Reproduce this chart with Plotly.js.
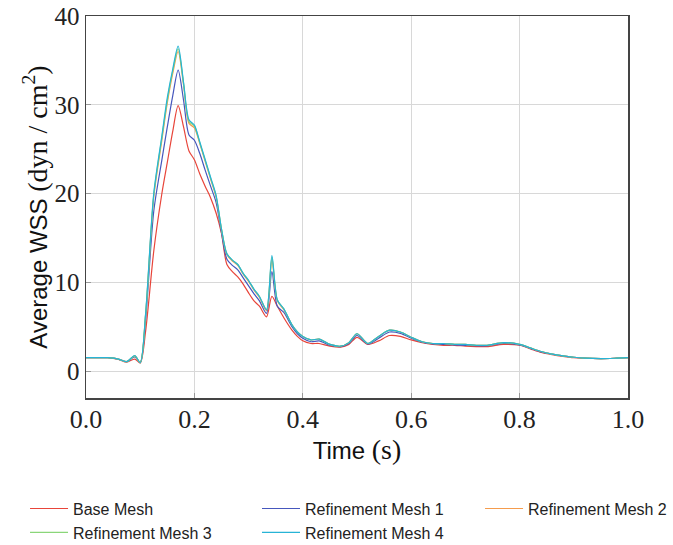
<!DOCTYPE html>
<html>
<head>
<meta charset="utf-8">
<script src="https://cdn.plot.ly/plotly-3.0.1.min.js"></script>
<style>html,body{margin:0;padding:0;background:#fff;}#chart{width:673px;height:545px;}</style>
</head>
<body>
<div id="chart"></div>
<script>
const seriesNames = ["Base Mesh", "Refinement Mesh 1", "Refinement Mesh 2", "Refinement Mesh 3", "Refinement Mesh 4"];
const time = [0, 0.02, 0.04, 0.06, 0.075, 0.09, 0.10, 0.11, 0.125, 0.14, 0.15, 0.16, 0.17, 0.18, 0.19, 0.20, 0.21, 0.22, 0.23, 0.24, 0.25, 0.26, 0.27, 0.28, 0.29, 0.30, 0.31, 0.32, 0.333, 0.343, 0.353, 0.365, 0.38, 0.39, 0.40, 0.415, 0.43, 0.45, 0.47, 0.485, 0.50, 0.52, 0.54, 0.56, 0.58, 0.60, 0.62, 0.64, 0.66, 0.68, 0.70, 0.72, 0.74, 0.77, 0.80, 0.82, 0.84, 0.86, 0.88, 0.90, 0.92, 0.95, 0.98, 1.0];
const baseMesh = [1.5, 1.5, 1.5, 1.3, 1.0, 1.35, 0.9, 4.5, 13.5, 20.0, 23.5, 27.0, 29.9, 27.5, 24.8, 23.8, 22.2, 20.8, 19.5, 17.8, 15.5, 12.0, 11.2, 10.6, 9.8, 8.8, 7.9, 7.3, 6.1, 8.4, 7.3, 6.0, 4.6, 3.9, 3.4, 3.1, 3.1, 2.8, 2.7, 3.0, 3.8, 3.0, 3.4, 4.0, 3.9, 3.5, 3.2, 3.0, 2.9, 2.9, 2.8, 2.75, 2.75, 3.0, 2.9, 2.5, 2.1, 1.85, 1.65, 1.5, 1.45, 1.4, 1.45, 1.5];
const mesh1 = [1.5, 1.5, 1.5, 1.35, 1.05, 1.6, 0.95, 5.8, 18.0, 23.8, 27.5, 31.0, 33.9, 30.5, 26.6, 26.0, 24.5, 22.6, 20.8, 19.0, 15.6, 12.6, 11.9, 11.4, 10.5, 9.6, 8.7, 7.9, 6.5, 11.2, 7.3, 6.6, 5.0, 4.2, 3.7, 3.3, 3.4, 2.9, 2.75, 3.1, 4.0, 3.05, 3.7, 4.4, 4.25, 3.7, 3.25, 3.05, 3.0, 2.95, 2.9, 2.85, 2.85, 3.1, 2.95, 2.55, 2.15, 1.9, 1.7, 1.55, 1.45, 1.4, 1.45, 1.5];
const mesh2 = [1.5, 1.5, 1.5, 1.35, 1.05, 1.7, 0.95, 6.3, 19.6, 26.0, 30.2, 33.5, 36.0, 32.2, 27.9, 27.4, 25.6, 23.6, 21.6, 19.6, 15.9, 13.1, 12.4, 11.9, 10.9, 10.1, 9.1, 8.3, 6.8, 12.5, 7.9, 6.9, 5.2, 4.4, 3.9, 3.5, 3.6, 3.0, 2.8, 3.2, 4.2, 3.1, 3.9, 4.6, 4.4, 3.8, 3.3, 3.1, 3.1, 3.0, 3.0, 2.9, 2.9, 3.2, 3.0, 2.6, 2.2, 1.9, 1.7, 1.55, 1.45, 1.4, 1.45, 1.5];
const mesh3 = [1.5, 1.5, 1.5, 1.35, 1.05, 1.7, 0.95, 6.4, 19.8, 26.3, 30.5, 33.8, 36.3, 32.4, 28.1, 27.6, 25.7, 23.7, 21.7, 19.7, 16.0, 13.2, 12.5, 12.0, 11.0, 10.2, 9.2, 8.4, 6.9, 12.8, 8.0, 7.0, 5.2, 4.4, 3.9, 3.5, 3.6, 3.0, 2.8, 3.2, 4.2, 3.1, 3.9, 4.6, 4.4, 3.8, 3.3, 3.1, 3.1, 3.0, 3.0, 2.9, 2.9, 3.2, 3.0, 2.6, 2.2, 1.9, 1.7, 1.55, 1.45, 1.4, 1.45, 1.5];
const mesh4 = [1.5, 1.5, 1.5, 1.35, 1.05, 1.75, 0.95, 6.5, 20.0, 26.5, 30.8, 34.0, 36.6, 32.5, 28.3, 27.7, 25.8, 23.8, 21.8, 19.8, 16.0, 13.2, 12.5, 12.0, 11.0, 10.2, 9.2, 8.4, 6.9, 13.0, 8.0, 7.0, 5.2, 4.4, 3.9, 3.5, 3.6, 3.0, 2.8, 3.2, 4.2, 3.1, 3.9, 4.6, 4.4, 3.8, 3.3, 3.1, 3.1, 3.0, 3.0, 2.9, 2.9, 3.2, 3.0, 2.6, 2.2, 1.9, 1.7, 1.55, 1.45, 1.4, 1.45, 1.5];
const xTicks = [0, 0.2, 0.4, 0.6, 0.8, 1.0];
const xTickLabels = ["0.0", "0.2", "0.4", "0.6", "0.8", "1.0"];
const yTicks = [0, 10, 20, 30, 40];
const yTickLabels = ["0", "10", "20", "30", "40"];

const colors = ["#e8453a", "#4657bd", "#f59c4d", "#8ad679", "#27b4d6"];
const allSeries = [baseMesh, mesh1, mesh2, mesh3, mesh4];
const legendOf = ["legend", "legend2", "legend3", "legend", "legend2"];

const traces = allSeries.map((ys, i) => ({
  x: time, y: ys, type: "scatter", mode: "lines", name: seriesNames[i],
  legend: legendOf[i],
  line: {color: colors[i], width: 1.2, shape: "spline", smoothing: 0.8}
}));

const serif = "Liberation Serif, DejaVu Serif, serif";
const sans = "Liberation Sans, Arial, sans-serif";
const legBase = {
  orientation: "v", xanchor: "left", y: -0.245, yanchor: "top",
  font: {family: sans, size: 16, color: "#222"},
  bgcolor: "rgba(0,0,0,0)", borderwidth: 0, tracegroupgap: 0, itemwidth: 38, traceorder: "normal"
};
const layout = {
  width: 673, height: 545,
  margin: {l: 86, r: 45, t: 16, b: 147, autoexpand: false},
  paper_bgcolor: "#fff", plot_bgcolor: "#fff",
  showlegend: true,
  legend: Object.assign({}, legBase, {x: -0.1125}),
  legend2: Object.assign({}, legBase, {x: 0.3155}),
  legend3: Object.assign({}, legBase, {x: 0.727}),
  xaxis: {
    range: [0, 1], tickvals: xTicks, ticktext: xTickLabels,
    showgrid: true, gridcolor: "#d8d8d8", gridwidth: 1,
    zeroline: false, showline: true, linecolor: "#444", linewidth: 1.5, mirror: true,
    ticks: "inside", ticklen: 5, tickcolor: "#999",
    tickfont: {family: serif, size: 26, color: "#222"},
    ticklabelstandoff: -3,
    automargin: false,
    title: {text: "Time <span style=\"font-family:Liberation Serif;font-size:28px\">(s)</span>", font: {family: sans, size: 24, color: "#111"}, standoff: 6}
  },
  yaxis: {
    range: [-3.04, 40], tickvals: yTicks, ticktext: yTickLabels,
    showgrid: true, gridcolor: "#d8d8d8", gridwidth: 1,
    zeroline: false, showline: true, linecolor: "#444", linewidth: 1.5, mirror: true,
    ticks: "inside", ticklen: 5, tickcolor: "#999",
    tickfont: {family: serif, size: 25, color: "#222"},
    automargin: true,
    title: {text: "Average WSS <span style=\"font-family:Liberation Serif;font-size:28px\">(dyn / cm<sup>2</sup>)</span>", font: {family: sans, size: 24, color: "#111"}, standoff: 0}
  }
};

Plotly.newPlot("chart", traces, layout, {displayModeBar: false, staticPlot: true});
</script>
</body>
</html>
